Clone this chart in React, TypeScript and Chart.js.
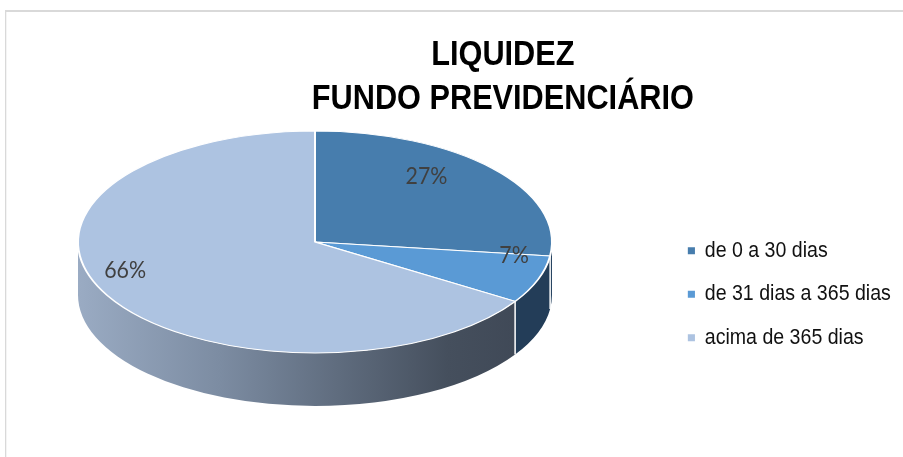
import React, { useEffect, useRef } from 'react';
import { Chart, registerables } from 'chart.js';

Chart.register(...registerables);

// ---- data ----
const TITLE_LINES = ['LIQUIDEZ', 'FUNDO PREVIDENCIÁRIO'];
const CATEGORIES = ['de 0 a 30 dias', 'de 31 dias a 365 dias', 'acima de 365 dias'];
const VALUES = [27, 7, 66];

// ---- styles ----
const TOP_COLORS = ['#477dad', '#5a9ad5', '#adc3e1'];
const SIDE_COLORS = ['#284562', '#233d58', '#5d6a7d'];
const LABEL_RADIUS = [0.69, 0.86, 0.86];
const PIE = { cx: 315, cy: 242, rx: 237, ry: 111, depth: 53, lift: 20 };
const K = 0.89; // horizontal condensing of the whole drawing (narrow type)
const PAGE_W = 903;
const PAGE_H = 457;
const CHART_W = Math.round(PAGE_W / K);
const SANS = "'Liberation Sans', Arial, sans-serif";

function project(u: number, v: number) {
  const T = PIE.cy - PIE.ry;
  const B = PIE.cy + PIE.ry;
  const V = PIE.cy - PIE.lift;
  const C = (2 * V - T - B) / (B - T);
  const A = V - T + T * C;
  const D = PIE.rx * Math.sqrt(1 - C * C);
  const den = 1 + C * v;
  return { x: PIE.cx + (D * u) / den, y: (A * v + V) / den };
}

const pie3d = {
  id: 'pie3d',
  beforeDraw(chart: any) {
    const ctx = chart.ctx;
    ctx.save();
    ctx.fillStyle = '#d9d9d9';
    ctx.fillRect(5, 10, PAGE_W, 2);
    ctx.fillRect(5, 10, 1.3, PAGE_H);
    ctx.scale(K, 1);
  },
  afterDraw(chart: any) {
    chart.ctx.restore();
  },
  beforeDatasetsDraw(chart: any) {
    const ctx = chart.ctx;
    const meta = chart.getDatasetMeta(0);
    const arcs = meta.data;
    ctx.save();
    ctx.scale(1 / K, 1); // page coordinates
    if (!arcs.length) return;
    const R = arcs[0].outerRadius;
    const ry = PIE.ry;
    arcs.forEach((arc: any, i: number) => {
      const a0 = Math.max(arc.startAngle, 0);
      const a1 = Math.min(arc.endAngle, Math.PI);
      if (a1 <= a0) return;
      ctx.beginPath();
      ctx.ellipse(PIE.cx, PIE.cy, R, ry, 0, a0, a1, false);
      ctx.ellipse(PIE.cx, PIE.cy + PIE.depth, R, ry, 0, a1, a0, true);
      ctx.closePath();
      if (i === 2) {
        const g = ctx.createLinearGradient(PIE.cx - R, 0, PIE.cx + R, 0);
        g.addColorStop(0, '#9aabc3');
        g.addColorStop(0.3, '#7c8ca2');
        g.addColorStop(0.55, '#5f6c7e');
        g.addColorStop(0.78, '#454f5d');
        g.addColorStop(1, '#3d4654');
        ctx.fillStyle = g;
      } else {
        ctx.fillStyle = SIDE_COLORS[i];
      }
      ctx.fill();
    });
    ctx.strokeStyle = '#ffffff';
    ctx.lineWidth = 1.5;
    arcs.forEach((arc: any) => {
      const a = arc.endAngle;
      if (a > 0 && a < Math.PI) {
        const x = PIE.cx + R * Math.cos(a);
        const y = PIE.cy + ry * Math.sin(a);
        ctx.beginPath();
        ctx.moveTo(x, y);
        ctx.lineTo(x, y + PIE.depth);
        ctx.stroke();
      }
    });
    // tilt the top face
    ctx.translate(PIE.cx, PIE.cy);
    ctx.scale(1, ry / R);
    ctx.translate(-arcs[0].x, -arcs[0].y);
  },
  afterDatasetsDraw(chart: any) {
    const ctx = chart.ctx;
    ctx.restore();
    const meta = chart.getDatasetMeta(0);
    const total = VALUES.reduce((a, b) => a + b, 0);
    ctx.save();
    ctx.fillStyle = '#404040';
    ctx.font = "24px Lato, 'Open Sans', sans-serif";
    ctx.textAlign = 'center';
    ctx.textBaseline = 'middle';
    meta.data.forEach((arc: any, i: number) => {
      const mid = (arc.startAngle + arc.endAngle) / 2;
      const f = LABEL_RADIUS[i];
      const p = project(f * Math.cos(mid), f * Math.sin(mid));
      ctx.fillText(Math.round((VALUES[i] / total) * 100) + '%', p.x / K, p.y);
    });
    ctx.restore();
  },
};

export default function App() {
  const ref = useRef<HTMLCanvasElement>(null);
  useEffect(() => {
    if (!ref.current) return;
    const chart = new Chart(ref.current, {
      type: 'pie',
      data: {
        labels: CATEGORIES,
        datasets: [
          {
            data: VALUES,
            backgroundColor: TOP_COLORS,
            borderColor: '#ffffff',
            borderWidth: 2,
            radius: PIE.rx,
            clip: false,
            hoverOffset: 0,
          } as any,
        ],
      },
      options: {
        animation: false,
        responsive: true,
        maintainAspectRatio: false,
        events: [],
        layout: { padding: { left: 119, right: 4, top: 0, bottom: 0 } },
        plugins: {
          tooltip: { enabled: false },
          title: {
            display: true,
            text: TITLE_LINES,
            color: '#000000',
            font: { family: SANS, size: 34.5, weight: 'bold', lineHeight: 1.27 },
            padding: { top: 34, bottom: 10 },
          },
          legend: {
            position: 'right',
            fullSize: false,
            labels: {
              boxWidth: 8,
              boxHeight: 7,
              padding: 21.5,
              color: '#111111',
              font: { family: SANS, size: 22 },
              generateLabels: (c: any) =>
                (Chart as any).overrides.pie.plugins.legend.labels
                  .generateLabels(c)
                  .map((l: any) => ({ ...l, lineWidth: 0, strokeStyle: 'rgba(0,0,0,0)' })),
            },
          },
        },
      } as any,
      plugins: [pie3d],
    });
    return () => chart.destroy();
  }, []);
  return (
    <div
      style={{
        position: 'absolute',
        left: 0,
        top: 0,
        width: PAGE_W,
        height: PAGE_H,
        overflow: 'hidden',
        background: '#fff',
      }}
    >
      <div style={{ width: CHART_W, height: PAGE_H }}>
        <canvas ref={ref} />
      </div>
    </div>
  );
}
